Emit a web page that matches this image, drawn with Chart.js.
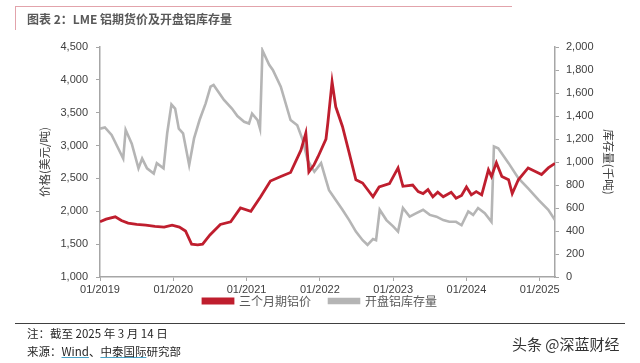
<!DOCTYPE html>
<html>
<head>
<meta charset="utf-8">
<script src="https://cdn.jsdelivr.net/npm/chart.js@4"></script>
<style>
  body { margin: 0; background: #fff; }
  #wrap { position: relative; width: 640px; height: 363px; overflow: hidden; font-family: "Noto Sans CJK SC", "Liberation Sans", sans-serif; }
  #chart { position: absolute; left: 0; top: 0; }
  .box-top { position: absolute; left: 15px; top: 6px; width: 497px; height: 0; border-top: 1.5px solid #e2a3ab; }
  .box-left { position: absolute; left: 15px; top: 6px; width: 0; height: 24px; border-left: 1.5px solid #e2a3ab; }
  .title { position: absolute; left: 27px; top: 10px; font-size: 12px; font-weight: bold; color: #595959; white-space: nowrap; }
  .foot-line { position: absolute; left: 15px; top: 323px; width: 610px; border-top: 1px solid #404040; }
  .note { position: absolute; left: 27px; font-size: 11.5px; color: #262626; white-space: nowrap; }
  .link { text-decoration: underline; text-decoration-color: #4aa3c8; }
  .mark { position: absolute; left: 512px; top: 333px; font-size: 15px; color: #333; white-space: nowrap; text-shadow: 0 0 2px #fff; }
</style>
</head>
<body>
<div id="wrap">
  <canvas id="chart" width="640" height="363"></canvas>
  <div class="box-top"></div>
  <div class="box-left"></div>
  <div class="title">图表 2：LME 铝期货价及开盘铝库存量</div>
  <div class="foot-line"></div>
  <div class="note" style="top:325px">注：截至 2025 年 3 月 14 日</div>
  <div class="note" style="top:343px">来源：<span class="link">Wind</span>、<span class="link">中泰国际</span>研究部</div>
  <div class="mark">头条 @深蓝财经</div>
</div>
<script>
// 月份序号：0 = 2019年1月
const yearLabels = ['01/2019', '01/2020', '01/2021', '01/2022', '01/2023', '01/2024', '01/2025'];

// 三个月期铝价（美元/吨）
const priceMonths = [0, 1, 2.5, 3.5, 4.6, 6, 7.5, 9, 10.5, 11.8, 13, 14, 15, 16, 16.8, 18, 19.7, 21.4, 23, 24.7,
    26.3, 27.9, 29.6, 31.2, 32.9, 33.7, 34.2, 35, 35.7, 37, 37.3, 38, 38.6, 39.7, 40.8, 41.9, 43, 44.7, 45.7, 47.4,
    48.8, 49.6, 51.2, 52.1, 52.9, 53.7, 54.5, 55.3, 56.2, 57.5, 58.3, 59.2, 60, 60.8, 61.6, 62.5, 63.6, 64.1, 64.9, 65.8,
    66.9, 67.5, 68.5, 70.1, 71.2, 72.3, 73.4, 74.5];
const priceValues = [1840, 1880, 1915, 1860, 1820, 1800, 1790, 1770, 1760, 1790, 1760, 1700, 1500, 1490, 1500, 1640, 1800, 1840, 2050, 2000,
    2220, 2460, 2530, 2590, 2930, 3190, 2600, 2700, 2830, 3100, 3340, 3970, 3590, 3290, 2890, 2480, 2430, 2220, 2370, 2420,
    2660, 2380, 2400, 2300, 2270, 2330, 2220, 2290, 2220, 2290, 2200, 2240, 2370, 2250, 2300, 2250, 2630, 2530, 2740, 2530,
    2480, 2270, 2480, 2660, 2610, 2560, 2660, 2730];

// 开盘铝库存量（千吨）
const stockMonths = [0, 0.8, 1.9, 3.8, 4.2, 5.2, 6.3, 6.9, 7.7, 8.8, 9.3, 10.4, 11, 11.7, 12.3, 12.9, 13.6, 14.6, 15.4, 16.3,
    17.3, 18.1, 18.6, 20.3, 21.6, 22.5, 23.6, 24.4, 24.9, 25.8, 26.2, 26.6, 27.7, 28.3, 29.6, 31.2, 32.3, 33.2, 34, 35.1,
    36.2, 37, 37.5, 38.6, 39.7, 40.8, 41.9, 43, 43.8, 44.7, 45.2, 45.8, 46.9, 48, 48.8, 49.6, 50.7, 51.8, 52.9, 54,
    55.1, 56.2, 57.2, 58.3, 59.2, 60.3, 61.1, 61.9, 63, 64.1, 64.5, 65.2, 66.9, 68.5, 70.1, 71.8, 73.4, 74.5];
const stockValues = [1290, 1300, 1235, 1030, 1280, 1160, 945, 1030, 945, 900, 990, 945, 1250, 1500, 1465, 1290, 1250, 975, 1205, 1365,
    1510, 1655, 1670, 1540, 1465, 1400, 1350, 1335, 1420, 1365, 1290, 1970, 1845, 1800, 1655, 1365, 1320, 1190, 1015, 915,
    990, 845, 755, 670, 585, 495, 395, 320, 280, 330, 320, 585, 495, 440, 395, 600, 525, 555, 585, 540,
    525, 495, 480, 480, 450, 570, 540, 600, 555, 480, 1135, 1120, 990, 860, 770, 670, 585, 495];

const axisColor = '#a6a6a6';
const tickFont = { family: 'Liberation Sans', size: 11 };
const cjkFont = { family: 'Noto Sans CJK SC', size: 11.5 };

function toPoints(xs, ys) {
    return xs.map((x, i) => ({ x: x, y: ys[i] }));
}

// 图例上移，与参考图一致（紧贴横轴标签下方）
const legendShift = {
    id: 'legendShift',
    afterLayout(chart) {
        const lg = chart.legend;
        lg.top -= 20;
        lg.bottom -= 20;
    }
};

new Chart(document.getElementById('chart'), {
    type: 'line',
    data: {
        datasets: [{
            label: '三个月期铝价',
            data: toPoints(priceMonths, priceValues),
            yAxisID: 'y',
            borderColor: '#bf1e2e',
            backgroundColor: '#bf1e2e',
            borderWidth: 2.8,
            pointRadius: 0,
            tension: 0
        }, {
            label: '开盘铝库存量',
            data: toPoints(stockMonths, stockValues),
            yAxisID: 'y2',
            borderColor: '#b5b5b5',
            backgroundColor: '#b5b5b5',
            borderWidth: 2.6,
            pointRadius: 0,
            tension: 0
        }]
    },
    plugins: [legendShift],
    options: {
        responsive: false,
        animation: false,
        layout: { padding: { top: 47, bottom: 26, left: 0, right: 0 } },
        plugins: {
            tooltip: { enabled: false },
            legend: {
                position: 'bottom',
                labels: {
                    font: { family: 'Noto Sans CJK SC', size: 12 },
                    color: '#595959',
                    boxWidth: 30,
                    boxHeight: 4,
                    padding: 18
                }
            }
        },
        scales: {
            x: {
                type: 'linear',
                min: 0,
                max: 74.5,
                afterFit: s => { s.height = 20; },
                grid: { drawOnChartArea: false, color: axisColor, tickLength: 4 },
                border: { color: axisColor, width: 1.5 },
                ticks: {
                    stepSize: 12,
                    includeBounds: false,
                    maxRotation: 0,
                    autoSkip: false,
                    padding: 2,
                    font: tickFont,
                    color: '#404040',
                    callback: v => yearLabels[v / 12]
                }
            },
            y: {
                position: 'left',
                min: 1000,
                max: 4500,
                afterFit: s => { s.width = 100; },
                grid: { drawOnChartArea: false, color: axisColor, tickLength: 4 },
                border: { color: axisColor, width: 1.5 },
                ticks: { stepSize: 500, padding: 8, font: tickFont, color: '#404040',
                    callback: v => v.toLocaleString('en-US') },
                title: { display: true, text: '价格(美元/吨)', font: cjkFont, color: '#404040', padding: { top: 38 } }
            },
            y2: {
                position: 'right',
                min: 0,
                max: 2000,
                afterFit: s => { s.width = 85; },
                grid: { drawOnChartArea: false, color: axisColor, tickLength: 4 },
                border: { color: axisColor, width: 1.5 },
                ticks: { stepSize: 200, padding: 7, font: tickFont, color: '#404040',
                    callback: v => v.toLocaleString('en-US') },
                title: { display: true, text: '库存量(千吨)', font: cjkFont, color: '#404040', padding: { top: 25 } }
            }
        }
    }
});
</script>
</body>
</html>
